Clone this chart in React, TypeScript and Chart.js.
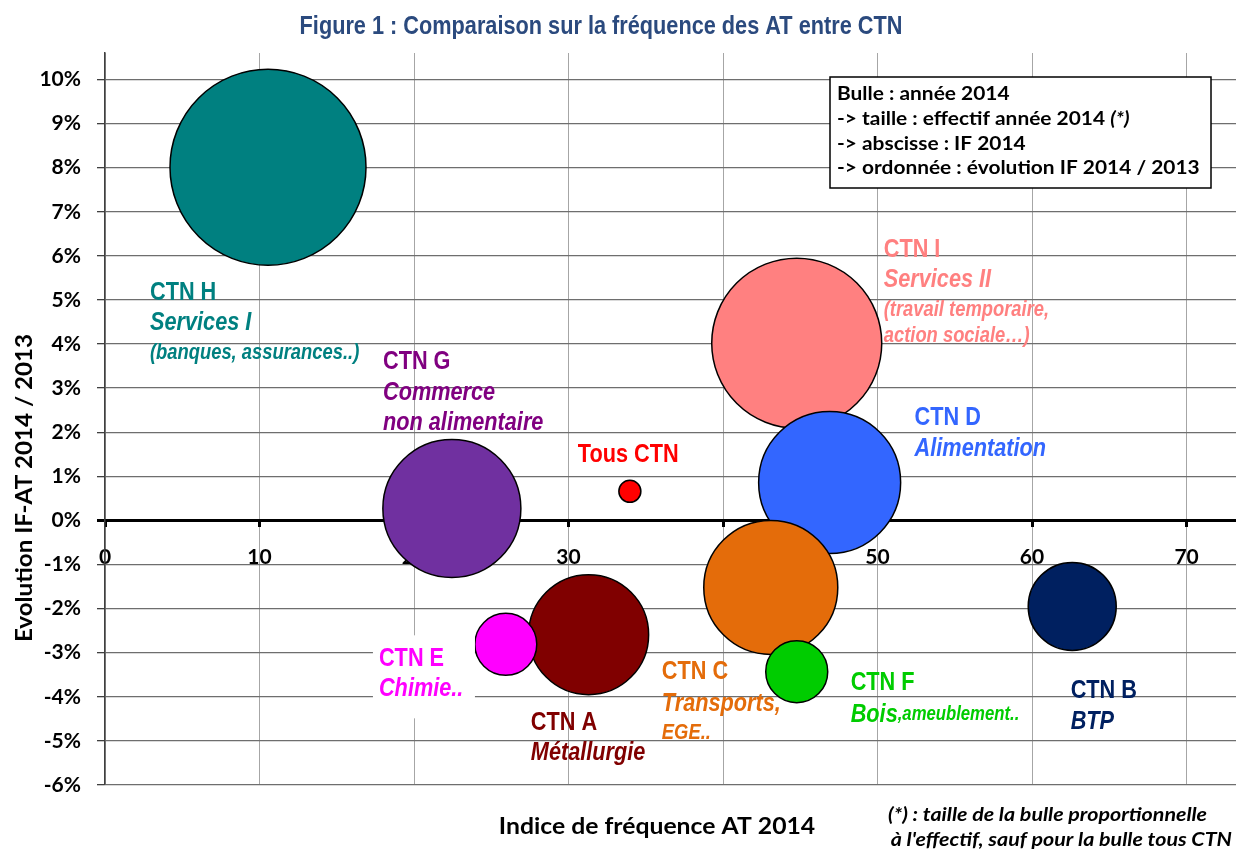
import React, { useEffect, useRef } from 'react';
import { Chart, registerables } from 'chart.js';

Chart.register(...registerables);

// ---------- DATA ----------
const ctnNames = ['CTN H', 'CTN I', 'CTN D', 'CTN G', 'CTN C', 'CTN A', 'CTN B', 'CTN E', 'CTN F', 'Tous CTN'];
// abscisse : indice de fréquence AT 2014
const indiceFrequence2014 = [10.55, 44.77, 46.9, 22.45, 43.09, 31.3, 62.6, 25.94, 44.77, 33.97];
// ordonnée : évolution IF 2014 / 2013 (%)
const evolutionIF = [8.01, 4.02, 0.86, 0.27, -1.52, -2.59, -1.95, -2.81, -3.43, 0.66];
// taille : effectif 2014 (milliers, estimé) — null : bulle "Tous CTN" non proportionnelle
const effectif2014 = [4300, 3235, 2257, 2132, 2010, 1612, 867, 430, 430, null];
const bubbleColors = ['#008080', '#FF8080', '#3366FF', '#7030A0', '#E46C0A', '#800000', '#002060', '#FF00FF', '#00CC00', '#FF0000'];

const xTickValues = [0, 10, 20, 30, 40, 50, 60, 70];
const yTickValues = [-6, -5, -4, -3, -2, -1, 0, 1, 2, 3, 4, 5, 6, 7, 8, 9, 10];

const titleText = 'Figure 1 : Comparaison sur la fréquence des AT entre CTN';
const xAxisTitle = 'Indice de fréquence AT 2014';
const yAxisTitle = 'Evolution IF-AT 2014 / 2013';
const legendLines = [
  [{ t: 'Bulle : année 2014', i: false }],
  [{ t: '-> taille : effectif année 2014 ', i: false }, { t: '(*)', i: true }],
  [{ t: '-> abscisse : IF 2014', i: false }],
  [{ t: '-> ordonnée : évolution IF 2014 / 2013', i: false }],
];
const footnoteLines = ['(*) : taille de la bulle proportionnelle', ' à l\'effectif, sauf pour la bulle tous CTN'];

// ---------- STYLE / LAYOUT ----------
const SANS = '"Liberation Sans", Arial, sans-serif';
const CAL = 'Lato, "Open Sans", sans-serif';
const NARROW_SX = 0.835;
const RADIUS_SCALE = 1.4945; // px per sqrt(milliers)
const TOUS_RADIUS = 11;

const FONTS: Record<string, string> = {
  b: `bold 26px ${SANS}`,
  bi: `italic bold 26px ${SANS}`,
  si: `italic bold 22px ${SANS}`,
  xi: `italic bold 20px ${SANS}`,
};

type Run = { t: string; f: string };
type Block = { color: string; x: number; y: number; dy: number[]; lines: Run[][]; box?: number[] };

const labelBlocks: Block[] = [
  { color: '#008080', x: 2.91, y: 5.17, dy: [0, 30, 60], lines: [[{ t: 'CTN H', f: 'b' }], [{ t: 'Services I', f: 'bi' }], [{ t: '(banques, assurances..)', f: 'si' }]] },
  { color: '#800080', x: 17.99, y: 3.59, dy: [0, 31, 61], lines: [[{ t: 'CTN G', f: 'b' }], [{ t: 'Commerce', f: 'bi' }], [{ t: 'non alimentaire', f: 'bi' }]] },
  { color: '#FF0000', x: 30.6, y: 1.48, dy: [0], lines: [[{ t: 'Tous CTN', f: 'b' }]] },
  { color: '#FF8080', x: 50.4, y: 6.13, dy: [0, 30, 60, 86], lines: [[{ t: 'CTN I', f: 'b' }], [{ t: 'Services II', f: 'bi' }], [{ t: '(travail temporaire,', f: 'si' }], [{ t: 'action sociale…)', f: 'si' }]] },
  { color: '#3366FF', x: 52.4, y: 2.32, dy: [0, 31], lines: [[{ t: 'CTN D', f: 'b' }], [{ t: 'Alimentation', f: 'bi' }]] },
  { color: '#FF00FF', x: 17.73, y: -3.15, dy: [0, 30], lines: [[{ t: 'CTN E', f: 'b' }], [{ t: 'Chimie..', f: 'bi' }]], box: [-6, -24, 102, 83] },
  { color: '#800000', x: 27.56, y: -4.58, dy: [0, 30], lines: [[{ t: 'CTN A', f: 'b' }], [{ t: 'Métallurgie', f: 'bi' }]] },
  { color: '#E46C0A', x: 36.04, y: -3.43, dy: [0, 32, 61], lines: [[{ t: 'CTN C', f: 'b' }], [{ t: 'Transports,', f: 'bi' }], [{ t: 'EGE..', f: 'si' }]] },
  { color: '#00CC00', x: 48.26, y: -3.68, dy: [0, 32], lines: [[{ t: 'CTN F', f: 'b' }], [{ t: 'Bois', f: 'bi' }, { t: ',ameublement..', f: 'xi' }]] },
  { color: '#002060', x: 62.5, y: -3.86, dy: [0, 31], lines: [[{ t: 'CTN B', f: 'b' }], [{ t: 'BTP', f: 'bi' }]] },
];

function drawText(ctx: CanvasRenderingContext2D, text: string, x: number, y: number, font: string, sx: number, align: CanvasTextAlign = 'left') {
  ctx.save();
  ctx.font = font;
  ctx.textAlign = align;
  ctx.textBaseline = 'middle';
  ctx.translate(x, y);
  ctx.scale(sx, 1);
  ctx.fillText(text, 0, 0);
  const w = ctx.measureText(text).width * sx;
  ctx.restore();
  return w;
}

const decorPlugin = {
  id: 'decor',
  afterDatasetsDraw(chart: any) {
    const ctx = chart.ctx as CanvasRenderingContext2D;
    const xs = chart.scales.x;
    const ys = chart.scales.y;
    ctx.save();
    for (const b of labelBlocks) {
      const px = xs.getPixelForValue(b.x);
      const py = ys.getPixelForValue(b.y);
      if (b.box) {
        ctx.fillStyle = '#FFFFFF';
        ctx.fillRect(px + b.box[0], py + b.box[1], b.box[2], b.box[3]);
      }
      ctx.fillStyle = b.color;
      b.lines.forEach((runs, i) => {
        let cx = px;
        for (const r of runs) {
          cx += drawText(ctx, r.t, cx, py + b.dy[i], FONTS[r.f], NARROW_SX);
        }
      });
    }
    ctx.restore();
  },
  afterDraw(chart: any) {
    const ctx = chart.ctx as CanvasRenderingContext2D;
    ctx.save();
    // Title
    ctx.fillStyle = '#2B4A7E';
    drawText(ctx, titleText, 601, 27, `bold 26px ${SANS}`, NARROW_SX, 'center');
    // Legend box
    ctx.fillStyle = '#FFFFFF';
    ctx.fillRect(830, 77, 381, 111);
    ctx.strokeStyle = '#000';
    ctx.lineWidth = 1.5;
    ctx.strokeRect(830, 77, 381, 111);
    ctx.fillStyle = '#000';
    legendLines.forEach((runs, i) => {
      let cx = 837;
      for (const r of runs) {
        cx += drawText(ctx, r.t, cx, 94 + i * 24.7, `${r.i ? 'italic ' : ''}bold 19px ${CAL}`, 1.1);
      }
    });
    // X axis title
    drawText(ctx, xAxisTitle, 657, 827, `bold 23px ${CAL}`, 1.076, 'center');
    // Y axis title
    ctx.save();
    ctx.translate(25, 488);
    ctx.rotate(-Math.PI / 2);
    drawText(ctx, yAxisTitle, 0, 0, `bold 23px ${CAL}`, 1.05, 'center');
    ctx.restore();
    // Footnote
    drawText(ctx, footnoteLines[0], 888, 815, `italic bold 18px ${CAL}`, 1.19);
    drawText(ctx, footnoteLines[1], 886, 840, `italic bold 18px ${CAL}`, 1.19);
    ctx.restore();
  },
};

export default function App() {
  const canvasRef = useRef<HTMLCanvasElement | null>(null);

  useEffect(() => {
    if (!canvasRef.current) return;
    const points = ctnNames.map((_, i) => ({
      x: indiceFrequence2014[i],
      y: evolutionIF[i],
      r: effectif2014[i] == null ? TOUS_RADIUS : RADIUS_SCALE * Math.sqrt(effectif2014[i] as number),
    }));
    const chart = new Chart(canvasRef.current, {
      type: 'bubble',
      data: {
        labels: ctnNames,
        datasets: [
          {
            label: 'CTN',
            data: points as any,
            backgroundColor: bubbleColors,
            borderColor: '#000000',
            borderWidth: 1.5,
            clip: false as any,
          },
        ],
      },
      options: {
        responsive: false,
        animation: false,
        devicePixelRatio: 1,
        events: [],
        layout: { autoPadding: false, padding: { left: 0, top: 53, right: 0, bottom: 66 } },
        plugins: {
          legend: { display: false },
          tooltip: { enabled: false },
          title: { display: false },
        },
        scales: {
          x: {
            type: 'linear',
            position: { y: 0 } as any,
            min: 0,
            max: 73.2,
            afterBuildTicks: (s: any) => {
              s.ticks = xTickValues.map((v) => ({ value: v }));
            },
            ticks: {
              padding: 19,
              color: '#000',
              maxRotation: 0,
              autoSkip: false,
              font: { family: CAL, weight: 'bold', size: 21 },
            },
            grid: {
              color: '#A6A6A6',
              lineWidth: 1,
              tickLength: 5,
              tickColor: '#000',
              tickWidth: 3,
            },
            border: { display: true, color: '#000', width: 3 },
          },
          y: {
            type: 'linear',
            position: 'left',
            min: -6,
            max: 10.6,
            afterBuildTicks: (s: any) => {
              s.ticks = yTickValues.map((v) => ({ value: v }));
            },
            afterFit: (s: any) => {
              s.width = 105;
            },
            ticks: {
              padding: 16,
              color: '#000',
              font: { family: CAL, weight: 'bold', size: 21 },
              callback: (v: any) => `${v}%`,
            },
            grid: {
              color: (c: any) => (c.tick && c.tick.value === 0 ? '#000' : '#6E6E6E'),
              lineWidth: (c: any) => (c.tick && c.tick.value === 0 ? 3 : 1.3),
              tickLength: 8,
              tickColor: (c: any) => (c.tick && c.tick.value === 0 ? '#000' : '#404040'),
            },
            border: { display: true, color: '#404040', width: 1.5 },
          },
        },
      },
      plugins: [decorPlugin],
    });
    return () => chart.destroy();
  }, []);

  return (
    <div style={{ position: 'fixed', left: 0, top: 0, width: 1236, height: 851, background: '#fff' }}>
      <canvas ref={canvasRef} width={1236} height={851} />
    </div>
  );
}
